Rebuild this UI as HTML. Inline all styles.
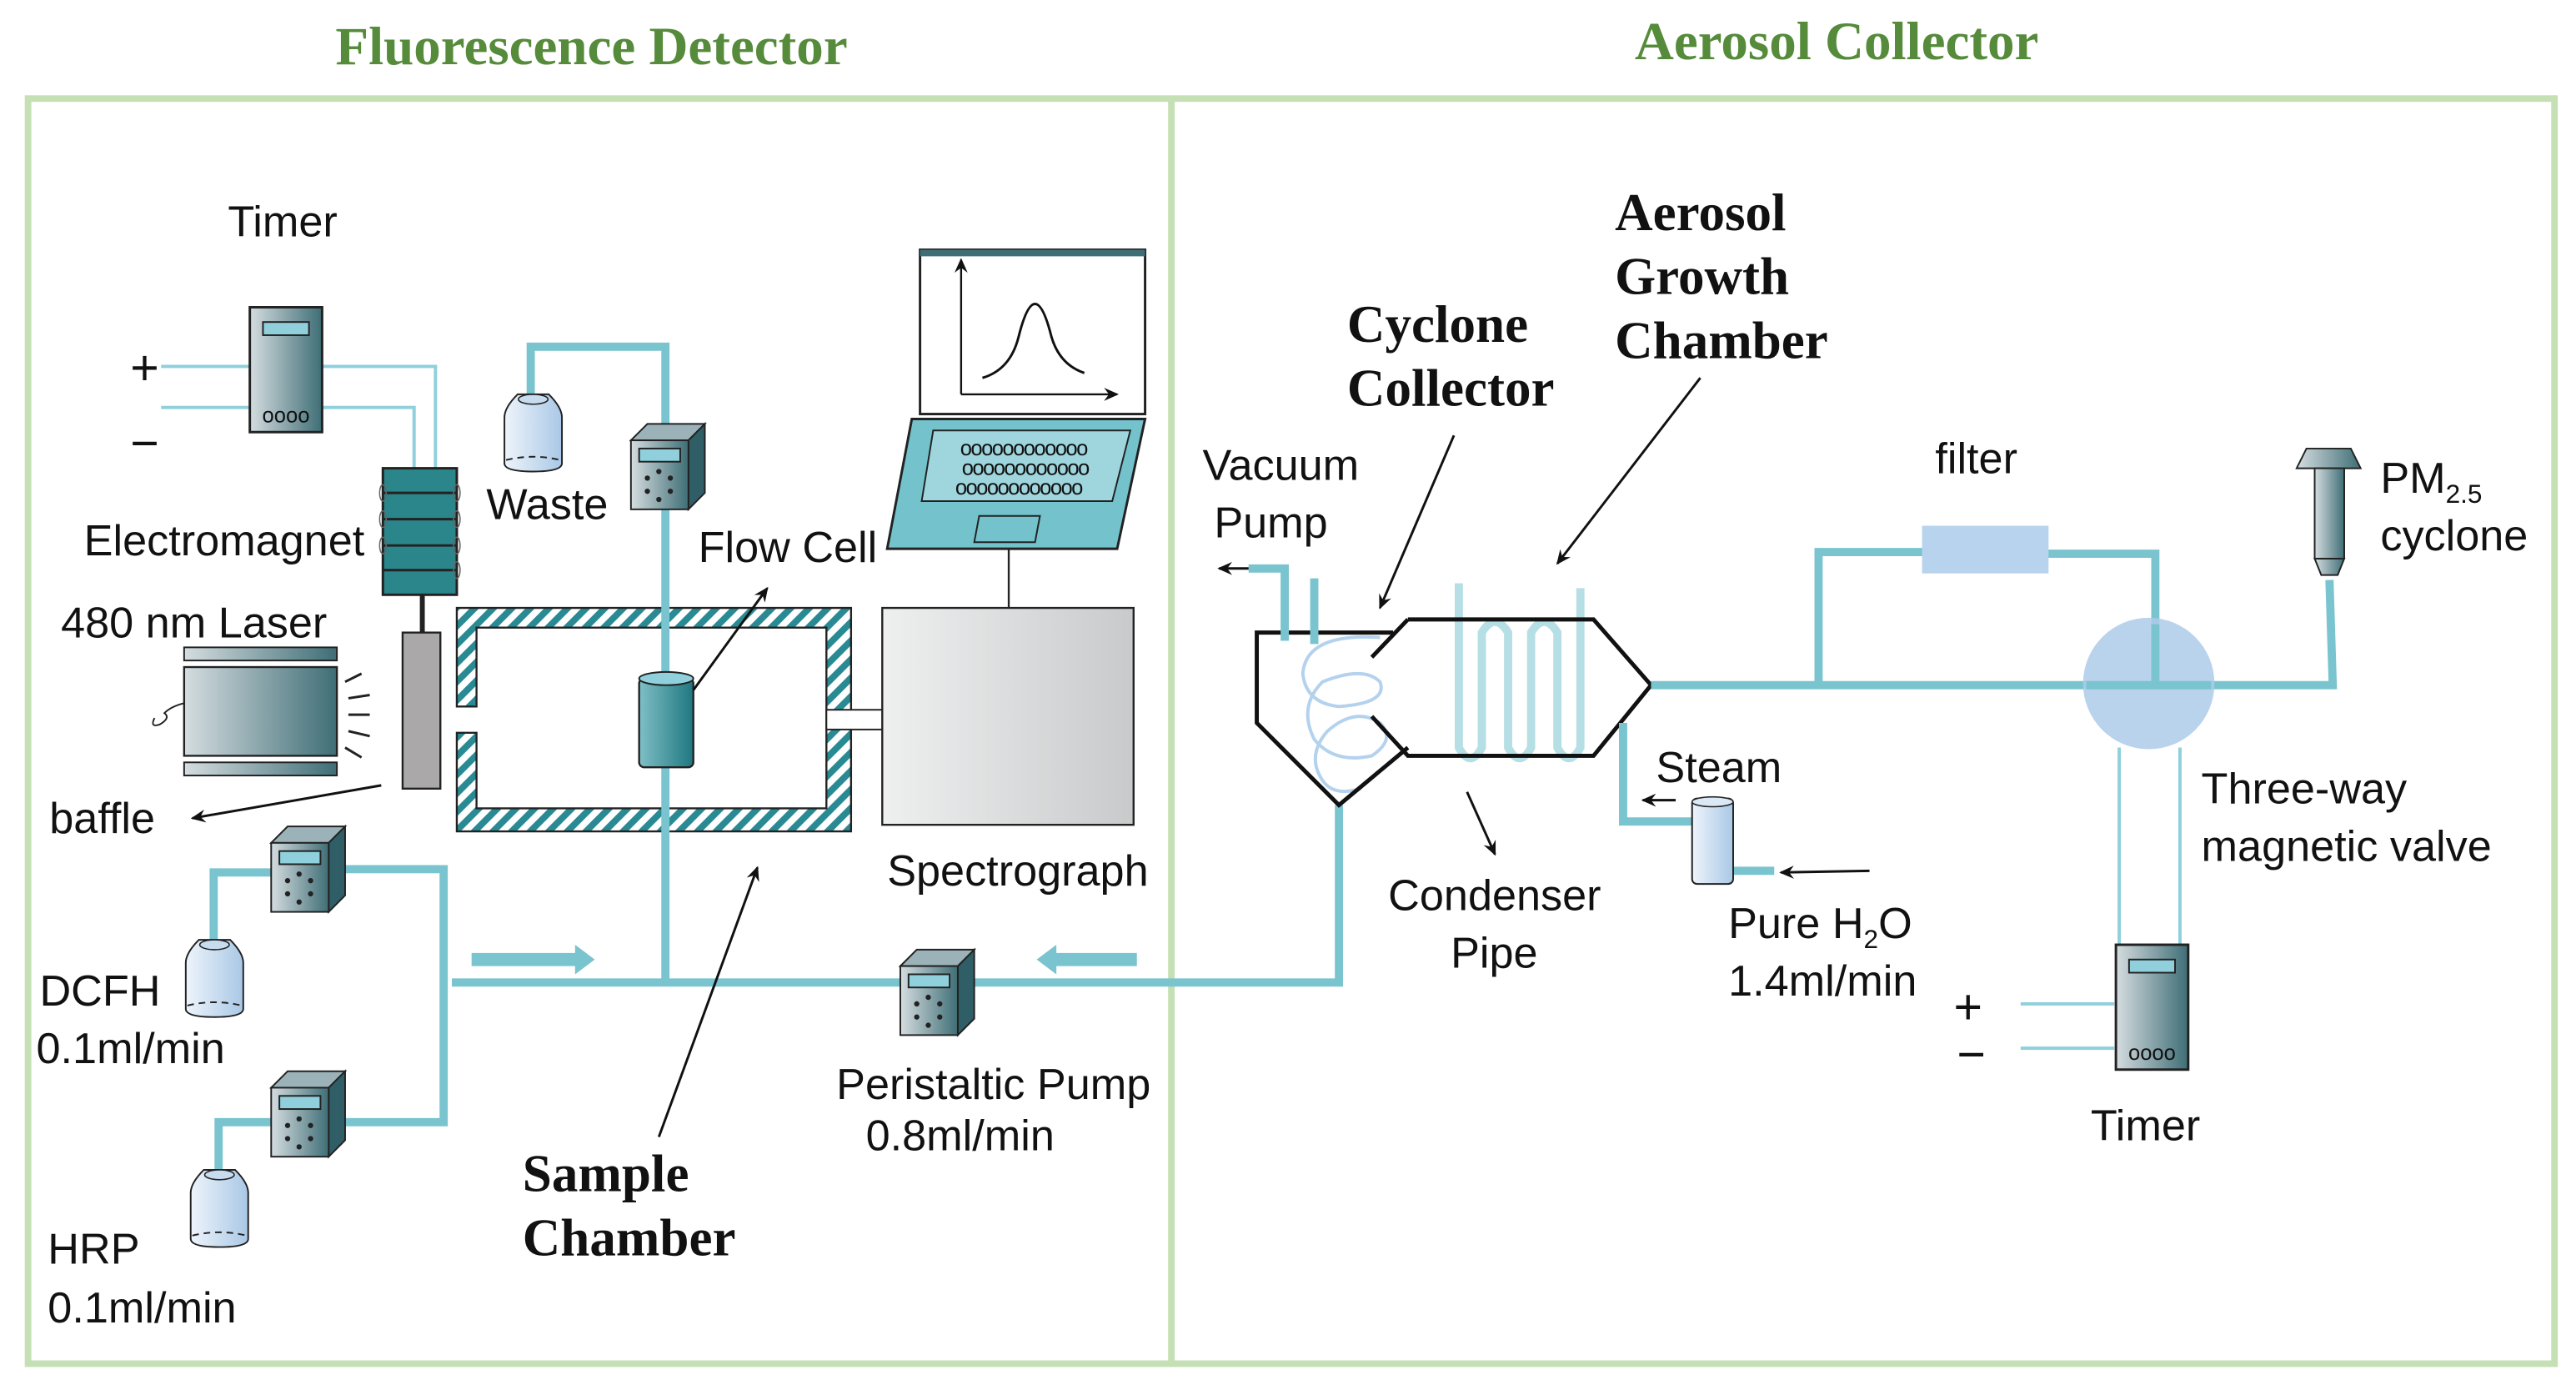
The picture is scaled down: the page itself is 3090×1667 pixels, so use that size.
<!DOCTYPE html>
<html><head><meta charset="utf-8"><style>
html,body{margin:0;padding:0;background:#fff;}
svg{display:block}
text{font-family:"Liberation Sans",sans-serif;fill:#111;font-size:26.5px;}
.b{font-family:"Liberation Serif",serif;font-weight:bold;}
</style></head><body>
<svg width="3090" height="1667" viewBox="0 0 1568 846" xmlns="http://www.w3.org/2000/svg">
<defs>
<linearGradient id="gm" x1="0" x2="1"><stop offset="0" stop-color="#d5dde0"/><stop offset="1" stop-color="#3f6e76"/></linearGradient>
<linearGradient id="gl" x1="0" x2="1"><stop offset="0" stop-color="#eef0f0"/><stop offset="1" stop-color="#c8cacb"/></linearGradient>
<linearGradient id="gb" x1="0" x2="1"><stop offset="0" stop-color="#eef4fb"/><stop offset="1" stop-color="#a9c8e6"/></linearGradient>
<linearGradient id="gt" x1="0" x2="1"><stop offset="0" stop-color="#7fbfc6"/><stop offset="1" stop-color="#1f7780"/></linearGradient>
<pattern id="hatch" width="8" height="8" patternUnits="userSpaceOnUse" patternTransform="rotate(45)"><rect width="8" height="8" fill="#fff"/><rect width="4" height="8" fill="#2a8a93"/></pattern>
<g id="pump">
<polygon points="0,10 10,0 45,0 35,10" fill="#9bb3b8" stroke="#222" stroke-width="1"/>
<polygon points="35,10 45,0 45,42 35,52" fill="#2f5e66" stroke="#222" stroke-width="1"/>
<rect x="0" y="10" width="35" height="42" fill="url(#gm)" stroke="#222" stroke-width="1"/>
<rect x="5" y="15" width="25" height="8" fill="#8fd0dc" stroke="#222" stroke-width="1"/>
<circle cx="17" cy="29" r="1.6" fill="#222"/><circle cx="10" cy="33" r="1.6" fill="#222"/><circle cx="24" cy="33" r="1.6" fill="#222"/><circle cx="10" cy="41" r="1.6" fill="#222"/><circle cx="24" cy="41" r="1.6" fill="#222"/><circle cx="17" cy="46" r="1.6" fill="#222"/>
</g>
<g id="bottle">
<path d="M8,0 H27 Q35,8 35,14 V42 Q35,47 17.5,47 Q0,47 0,42 V14 Q0,8 8,0Z" fill="url(#gb)" stroke="#222" stroke-width="1"/>
<ellipse cx="17.5" cy="3" rx="9" ry="3" fill="#c8dcef" stroke="#222" stroke-width="0.8"/>
<path d="M1,40 Q17.5,36 34,40" fill="none" stroke="#222" stroke-width="1" stroke-dasharray="4,3"/>
</g>
<g id="timer">
<rect x="0" y="0" width="44" height="76" fill="url(#gm)" stroke="#222" stroke-width="1.5"/>
<rect x="8" y="9" width="28" height="8" fill="#8fd0dc" stroke="#222" stroke-width="1"/>
<text x="22" y="70" style="font-size:13px" text-anchor="middle">oooo</text>
</g>
<marker id="ar" markerWidth="10" markerHeight="10" refX="8" refY="5" orient="auto" markerUnits="userSpaceOnUse"><path d="M0,1 L9,5 L0,9 L3,5Z" fill="#111"/></marker>
</defs>

<!-- titles -->
<text x="360" y="39" class="b" text-anchor="middle" style="fill:#558b3a;font-size:33px">Fluorescence Detector</text>
<text x="1118" y="36" class="b" text-anchor="middle" style="fill:#558b3a;font-size:33px">Aerosol Collector</text>

<!-- frame -->
<rect x="17" y="60" width="1538" height="770" fill="none" stroke="#c5e0b4" stroke-width="4"/>
<line x1="713" y1="60" x2="713" y2="830" stroke="#c5e0b4" stroke-width="4"/>

<!-- LEFT: timer + wires -->
<text x="172" y="144" text-anchor="middle">Timer</text>
<text x="88" y="234" style="font-size:30px" text-anchor="middle">+</text>
<text x="88" y="280" style="font-size:30px" text-anchor="middle">−</text>
<g stroke="#8fd0dc" stroke-width="2" fill="none">
<polyline points="98,223 265,223 265,285"/>
<polyline points="98,248 252,248 252,285"/>
</g>
<use href="#timer" x="152" y="187"/>

<!-- electromagnet -->
<rect x="233" y="285" width="45" height="77" fill="#2a868b" stroke="#222" stroke-width="1.5"/>
<g stroke="#222" stroke-width="1.5"><line x1="233" y1="300" x2="278" y2="300"/><line x1="233" y1="316" x2="278" y2="316"/><line x1="233" y1="332" x2="278" y2="332"/><line x1="233" y1="347" x2="278" y2="347"/></g>
<g fill="none" stroke="#666" stroke-width="0.8"><ellipse cx="233" cy="300" rx="2" ry="5"/><ellipse cx="233" cy="316" rx="2" ry="5"/><ellipse cx="233" cy="332" rx="2" ry="5"/><ellipse cx="278" cy="300" rx="2" ry="5"/><ellipse cx="278" cy="316" rx="2" ry="5"/><ellipse cx="278" cy="332" rx="2" ry="5"/><ellipse cx="278" cy="347" rx="2" ry="5"/></g>
<line x1="257" y1="362" x2="257" y2="385" stroke="#222" stroke-width="3"/>
<text x="51" y="338">Electromagnet</text>
<rect x="245" y="385" width="23" height="95" fill="#aaa8a8" stroke="#222" stroke-width="1.2"/>

<!-- laser -->
<text x="37" y="388">480 nm Laser</text>
<rect x="112" y="394" width="93" height="8" fill="url(#gm)" stroke="#222" stroke-width="1"/>
<rect x="112" y="406" width="93" height="54" fill="url(#gm)" stroke="#222" stroke-width="1.2"/>
<rect x="112" y="464" width="93" height="8" fill="url(#gm)" stroke="#222" stroke-width="1"/>
<g stroke="#222" stroke-width="1.5"><line x1="210" y1="415" x2="220" y2="410"/><line x1="212" y1="425" x2="225" y2="423"/><line x1="212" y1="435" x2="225" y2="435"/><line x1="212" y1="445" x2="225" y2="448"/><line x1="210" y1="455" x2="220" y2="461"/></g>
<path d="M112,428 q-8,2 -12,6 q4,3 -3,7 q-6,2 -3,-4" fill="none" stroke="#222" stroke-width="1"/>
<text x="30" y="507">baffle</text>
<line x1="232" y1="478" x2="117" y2="498" stroke="#111" stroke-width="1.5" marker-end="url(#ar)"/>

<!-- sample chamber -->
<path d="M278,370 H518 V506 H278 V446 H290 V492 H503 V382 H290 V430 H278Z" fill="url(#hatch)" stroke="#222" stroke-width="1.2"/>
<rect x="503" y="432" width="40" height="12" fill="#fff" stroke="#222" stroke-width="1"/>

<!-- pipes left -->
<g stroke="#79c4cf" stroke-width="5" fill="none">
<polyline points="323,245 323,211 405,211 405,600"/>
<polyline points="275,598 815,598 815,490"/>
<polyline points="210,529 270,529 270,683 210,683"/>
<polyline points="130,578 130,531 170,531"/>
<polyline points="133,718 133,683 170,683"/>
</g>
<use href="#bottle" x="307" y="240"/>
<text x="296" y="316">Waste</text>
<use href="#pump" x="384" y="258"/>

<!-- flow cell -->
<rect x="389" y="413" width="33" height="54" rx="3" fill="url(#gt)" stroke="#222" stroke-width="1.2"/>
<ellipse cx="405.5" cy="413" rx="16.5" ry="4" fill="#8fd0dc" stroke="#222" stroke-width="1"/>
<line x1="422" y1="420" x2="467" y2="358" stroke="#111" stroke-width="1.5" marker-end="url(#ar)"/>
<text x="425" y="342">Flow Cell</text>

<!-- laptop -->
<rect x="560" y="152" width="137" height="100" fill="#fff" stroke="#222" stroke-width="1.5"/>
<rect x="560" y="152" width="137" height="4" fill="#3f6e76"/>
<line x1="585" y1="240" x2="585" y2="158" stroke="#111" stroke-width="1.2" marker-end="url(#ar)"/>
<line x1="585" y1="240" x2="680" y2="240" stroke="#111" stroke-width="1.2" marker-end="url(#ar)"/>
<path d="M598,230 Q615,225 620,205 Q625,185 630,185 Q635,185 640,205 Q645,222 660,227" fill="none" stroke="#111" stroke-width="1.5"/>
<polygon points="555,255 697,255 680,334 540,334" fill="#73c2cc" stroke="#222" stroke-width="1.5"/>
<polygon points="568,262 688,262 677,305 561,305" fill="#9fd6de" stroke="#222" stroke-width="1"/>
<text x="623" y="277" style="font-size:13px" text-anchor="middle" letter-spacing="-0.8">oooooooooooo</text>
<text x="624" y="289" style="font-size:13px" text-anchor="middle" letter-spacing="-0.8">oooooooooooo</text>
<text x="620" y="301" style="font-size:13px" text-anchor="middle" letter-spacing="-0.8">oooooooooooo</text>
<polygon points="596,314 633,314 630,330 593,330" fill="#73c2cc" stroke="#222" stroke-width="1"/>
<line x1="614" y1="334" x2="614" y2="370" stroke="#222" stroke-width="1.2"/>
<rect x="537" y="370" width="153" height="132" fill="url(#gl)" stroke="#222" stroke-width="1.2"/>
<text x="540" y="539">Spectrograph</text>

<!-- feed pumps -->
<use href="#pump" x="165" y="503"/>
<use href="#bottle" x="113" y="572"/>
<text x="24" y="612">DCFH</text>
<text x="22" y="647">0.1ml/min</text>
<use href="#pump" x="165" y="652"/>
<use href="#bottle" x="116" y="712"/>
<text x="29" y="769">HRP</text>
<text x="29" y="805">0.1ml/min</text>

<!-- flow arrows -->
<polygon points="287,580 350,580 350,575 362,584 350,593 350,588 287,588" fill="#79c4cf"/>
<polygon points="692,580 643,580 643,575 631,584 643,593 643,588 692,588" fill="#79c4cf"/>
<use href="#pump" x="548" y="578"/>
<text x="509" y="669">Peristaltic Pump</text>
<text x="527" y="700">0.8ml/min</text>

<text x="318" y="725" class="b" style="font-size:32px">Sample</text>
<text x="318" y="764" class="b" style="font-size:32px">Chamber</text>
<line x1="401" y1="692" x2="461" y2="528" stroke="#111" stroke-width="1.5" marker-end="url(#ar)"/>

<!-- RIGHT -->
<text x="732" y="292">Vacuum</text>
<text x="739" y="327">Pump</text>
<text x="820" y="208" class="b" style="font-size:32px">Cyclone</text>
<text x="820" y="247" class="b" style="font-size:32px">Collector</text>
<text x="983" y="140" class="b" style="font-size:32px">Aerosol</text>
<text x="983" y="179" class="b" style="font-size:32px">Growth</text>
<text x="983" y="218" class="b" style="font-size:32px">Chamber</text>
<line x1="885" y1="265" x2="840" y2="370" stroke="#111" stroke-width="1.5" marker-end="url(#ar)"/>
<line x1="1035" y1="230" x2="948" y2="343" stroke="#111" stroke-width="1.5" marker-end="url(#ar)"/>

<!-- cyclone coil -->
<path d="M840,388 Q795,385 793,410 Q795,428 815,430 Q845,428 840,415 Q830,405 805,415 Q790,430 800,450 Q812,465 835,460 Q850,450 840,440 Q825,430 808,445 Q795,460 805,475 Q812,485 828,480" fill="none" stroke="#b4d2ee" stroke-width="2"/>
<!-- coil tubes -->
<g stroke="#b6dfe5" stroke-width="5" fill="none">
<path d="M888,355 V455 Q895,468 902,455 V385 Q910,372 918,385 V455 Q925,468 932,455 V385 Q940,372 948,385 V455 Q955,468 962,455 V358"/>
</g>
<g stroke="#111" stroke-width="2.5" fill="none">
<polyline points="848,385 765,385 765,440 815,490 857,455"/>
<polyline points="857,377 970,377 1005,417 970,460 857,460 835,436"/>
<polyline points="835,400 857,377"/>
</g>
<g stroke="#79c4cf" stroke-width="5" fill="none">
<polyline points="782,390 782,346 760,346"/>
<line x1="800" y1="352" x2="800" y2="392"/>
<polyline points="1005,417 1420,417 1418,353"/>
<polyline points="1107,417 1107,336 1175,336"/>
<polyline points="1245,337 1312,337 1312,417"/>
<polyline points="988,440 988,500 1032,500"/>
<line x1="1045" y1="530" x2="1080" y2="530"/>
</g>
<line x1="760" y1="346" x2="742" y2="346" stroke="#111" stroke-width="1.5" marker-end="url(#ar)"/>
<rect x="1170" y="320" width="77" height="29" fill="#b8d3ed"/>
<text x="1178" y="288">filter</text>
<circle cx="1308" cy="416" r="40" fill="#aecbea" opacity="0.85"/>
<line x1="1312" y1="380" x2="1312" y2="417" stroke="#79c4cf" stroke-width="5"/>
<line x1="1270" y1="417" x2="1346" y2="417" stroke="#79c4cf" stroke-width="5"/>
<!-- PM2.5 cyclone -->
<polygon points="1404,273 1431,273 1437,285 1398,285" fill="url(#gm)" stroke="#222" stroke-width="1"/>
<rect x="1409" y="285" width="18" height="55" fill="url(#gm)" stroke="#222" stroke-width="1"/>
<polygon points="1409,340 1427,340 1423,350 1413,350" fill="url(#gm)" stroke="#222" stroke-width="1"/>
<text x="1449" y="300">PM<tspan style="font-size:16px" dy="6">2.5</tspan></text>
<text x="1449" y="335">cyclone</text>

<!-- valve wires, timer -->
<g stroke="#8fd0dc" stroke-width="2" fill="none">
<line x1="1290" y1="455" x2="1290" y2="575"/>
<line x1="1327" y1="455" x2="1327" y2="575"/>
<line x1="1230" y1="611" x2="1287" y2="611"/>
<line x1="1230" y1="638" x2="1287" y2="638"/>
</g>
<use href="#timer" x="1288" y="575"/>
<text x="1198" y="623" style="font-size:30px" text-anchor="middle">+</text>
<text x="1200" y="652" style="font-size:30px" text-anchor="middle">−</text>
<text x="1306" y="694" text-anchor="middle">Timer</text>
<text x="1340" y="489">Three-way</text>
<text x="1340" y="524">magnetic valve</text>

<!-- steam -->
<rect x="1030" y="486" width="25" height="52" rx="3" fill="url(#gb)" stroke="#222" stroke-width="1"/>
<ellipse cx="1042.5" cy="488" rx="12.5" ry="3" fill="#dbe8f5" stroke="#222" stroke-width="0.8"/>
<line x1="1020" y1="487" x2="1000" y2="487" stroke="#111" stroke-width="1.5" marker-end="url(#ar)"/>
<text x="1008" y="476">Steam</text>
<line x1="1138" y1="530" x2="1084" y2="531" stroke="#111" stroke-width="1.5" marker-end="url(#ar)"/>
<text x="1052" y="571">Pure H<tspan style="font-size:16px" dy="6">2</tspan><tspan dy="-6">O</tspan></text>
<text x="1052" y="606">1.4ml/min</text>
<line x1="893" y1="482" x2="910" y2="520" stroke="#111" stroke-width="1.5" marker-end="url(#ar)"/>
<text x="845" y="554">Condenser</text>
<text x="883" y="589">Pipe</text>
</svg>
</body></html>
